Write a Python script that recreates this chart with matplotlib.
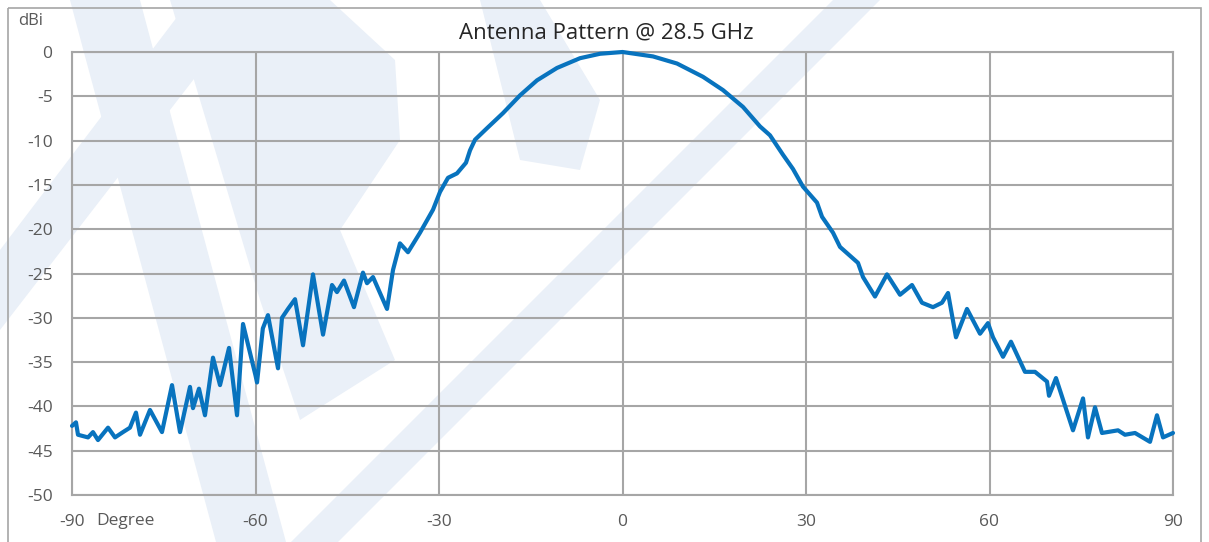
import matplotlib.pyplot as plt
from matplotlib.patches import Polygon, Rectangle

angle = [-90.0, -89.35, -89.02, -87.38, -86.57, -85.75, -84.11, -82.97, -81.66,
         -80.52, -79.54, -78.88, -77.25, -75.29, -73.65, -72.34, -70.71, -70.22,
         -69.24, -68.26, -66.95, -65.80, -64.33, -63.02, -62.04, -60.0, -59.75,
         -58.8, -57.96, -56.32, -55.67, -54.69, -53.54, -52.23, -50.60, -48.96,
         -47.49, -46.68, -45.53, -43.90, -42.43, -41.77, -40.79, -38.50, -37.52,
         -36.38, -35.07, -33.11, -30.98, -29.84, -28.53, -27.06, -25.59, -24.93,
         -24.11, -22.15, -19.54, -16.76, -13.98, -10.71, -6.95, -3.68, 0.0,
         4.99, 8.91, 13.16, 16.43, 19.70, 22.48, 24.11, 26.24, 27.87, 29.51,
         31.80, 32.62, 34.42, 35.56, 38.50, 39.32, 41.28, 43.24, 45.37, 47.33,
         48.96, 50.76, 52.23, 53.22, 54.52, 56.32, 58.45, 59.75, 60.57, 62.21,
         63.51, 65.80, 67.44, 69.40, 69.73, 70.87, 73.65, 75.29, 76.10, 77.25,
         78.39, 81.01, 82.15, 83.79, 86.24, 87.38, 88.37, 90.0]
gain = [-42.2, -41.8, -43.2, -43.5, -42.9, -43.8, -42.4, -43.5, -42.9,
        -42.4, -40.7, -43.2, -40.4, -42.9, -37.6, -42.9, -37.8, -40.2,
        -38.0, -41.0, -34.5, -37.6, -33.4, -41.0, -30.7, -36.5, -37.3,
        -31.2, -29.7, -35.7, -30.0, -29.0, -27.9, -33.1, -25.1, -31.9,
        -26.3, -27.1, -25.8, -28.8, -24.9, -26.1, -25.4, -29.0, -24.6,
        -21.6, -22.6, -20.4, -17.8, -15.8, -14.2, -13.7, -12.5, -11.1,
        -9.9, -8.6, -6.9, -4.9, -3.2, -1.8, -0.7, -0.2, 0.0,
        -0.5, -1.3, -2.8, -4.3, -6.2, -8.4, -9.4, -11.6, -13.2, -15.2,
        -17.0, -18.6, -20.4, -22.0, -23.8, -25.4, -27.6, -25.1, -27.4, -26.3,
        -28.3, -28.8, -28.3, -27.2, -32.2, -29.0, -31.8, -30.6, -32.2, -34.4,
        -32.7, -36.1, -36.1, -37.2, -38.8, -36.8, -42.7, -39.1, -43.5, -40.1,
        -43.0, -42.7, -43.2, -43.0, -44.0, -41.0, -43.5, -43.0]

xticks = [-90, -60, -30, 0, 30, 60, 90]
yticks = [0, -5, -10, -15, -20, -25, -30, -35, -40, -45, -50]

plt.rcParams['font.family'] = ['Open Sans', 'DejaVu Sans']
txt = '#595959'
grid = '#A6A6A6'

fig = plt.figure(figsize=(12.09, 5.42), dpi=100)
W, H = 1209.0, 542.0

# background layer in pixel coordinates for the faint logo watermark
bg = fig.add_axes([0, 0, 1, 1], zorder=0)
bg.set_xlim(0, W)
bg.set_ylim(H, 0)
bg.axis('off')
wm = '#EAF0F8'
shapes = [
    [(70, 0), (140, 0), (156, 60), (286, 542), (216, 542), (86, 60)],
    [(170, 0), (330, 0), (395, 60), (400, 140), (340, 230), (395, 360),
     (300, 420), (260, 300)],
    [(0, 330), (0, 250), (190, 0), (255, 0)],
    [(833, 0), (880, 0), (338, 542), (291, 542)],
    [(480, 0), (540, 0), (600, 100), (580, 170), (520, 160)],
]
for s in shapes:
    bg.add_patch(Polygon(s, closed=True, facecolor=wm, edgecolor='none'))
bg.add_patch(Rectangle((8, 8), 1193, 560, fill=False, edgecolor=grid,
                       linewidth=1.2))

ax = fig.add_axes([72 / W, 1 - 495 / H, (1173 - 72) / W, (495 - 52) / H],
                  zorder=1)
ax.patch.set_alpha(0)
ax.plot(angle, gain, color='#0873BE', linewidth=3, solid_joinstyle='round',
        solid_capstyle='round', zorder=3, clip_on=False)

ax.set_xlim(-90, 90)
ax.set_ylim(-50, 0)
ax.set_xticks(xticks)
ax.set_yticks(yticks)
ax.set_xticklabels([str(v) for v in xticks])
ax.set_yticklabels([str(v) for v in yticks])
ax.grid(True, color=grid, linewidth=1.5)
for sp in ax.spines.values():
    sp.set_color(grid)
    sp.set_linewidth(1.5)
ax.tick_params(length=0, labelsize=12.5, labelcolor=txt)
ax.tick_params(axis='x', pad=14)
ax.tick_params(axis='y', pad=14)

fig.text(606 / W, 1 - 33 / H, 'Antenna Pattern @ 28.5 GHz', ha='center',
         va='center', fontsize=16, color='#262626')
fig.text(18 / W, 1 - 21 / H, 'dBi', ha='left', va='center', fontsize=12,
         color=txt)
fig.text(96 / W, 1 - 521 / H, 'Degree', ha='left', va='center',
         fontsize=12.5, color=txt)

fig.savefig('out.png', dpi=100)
